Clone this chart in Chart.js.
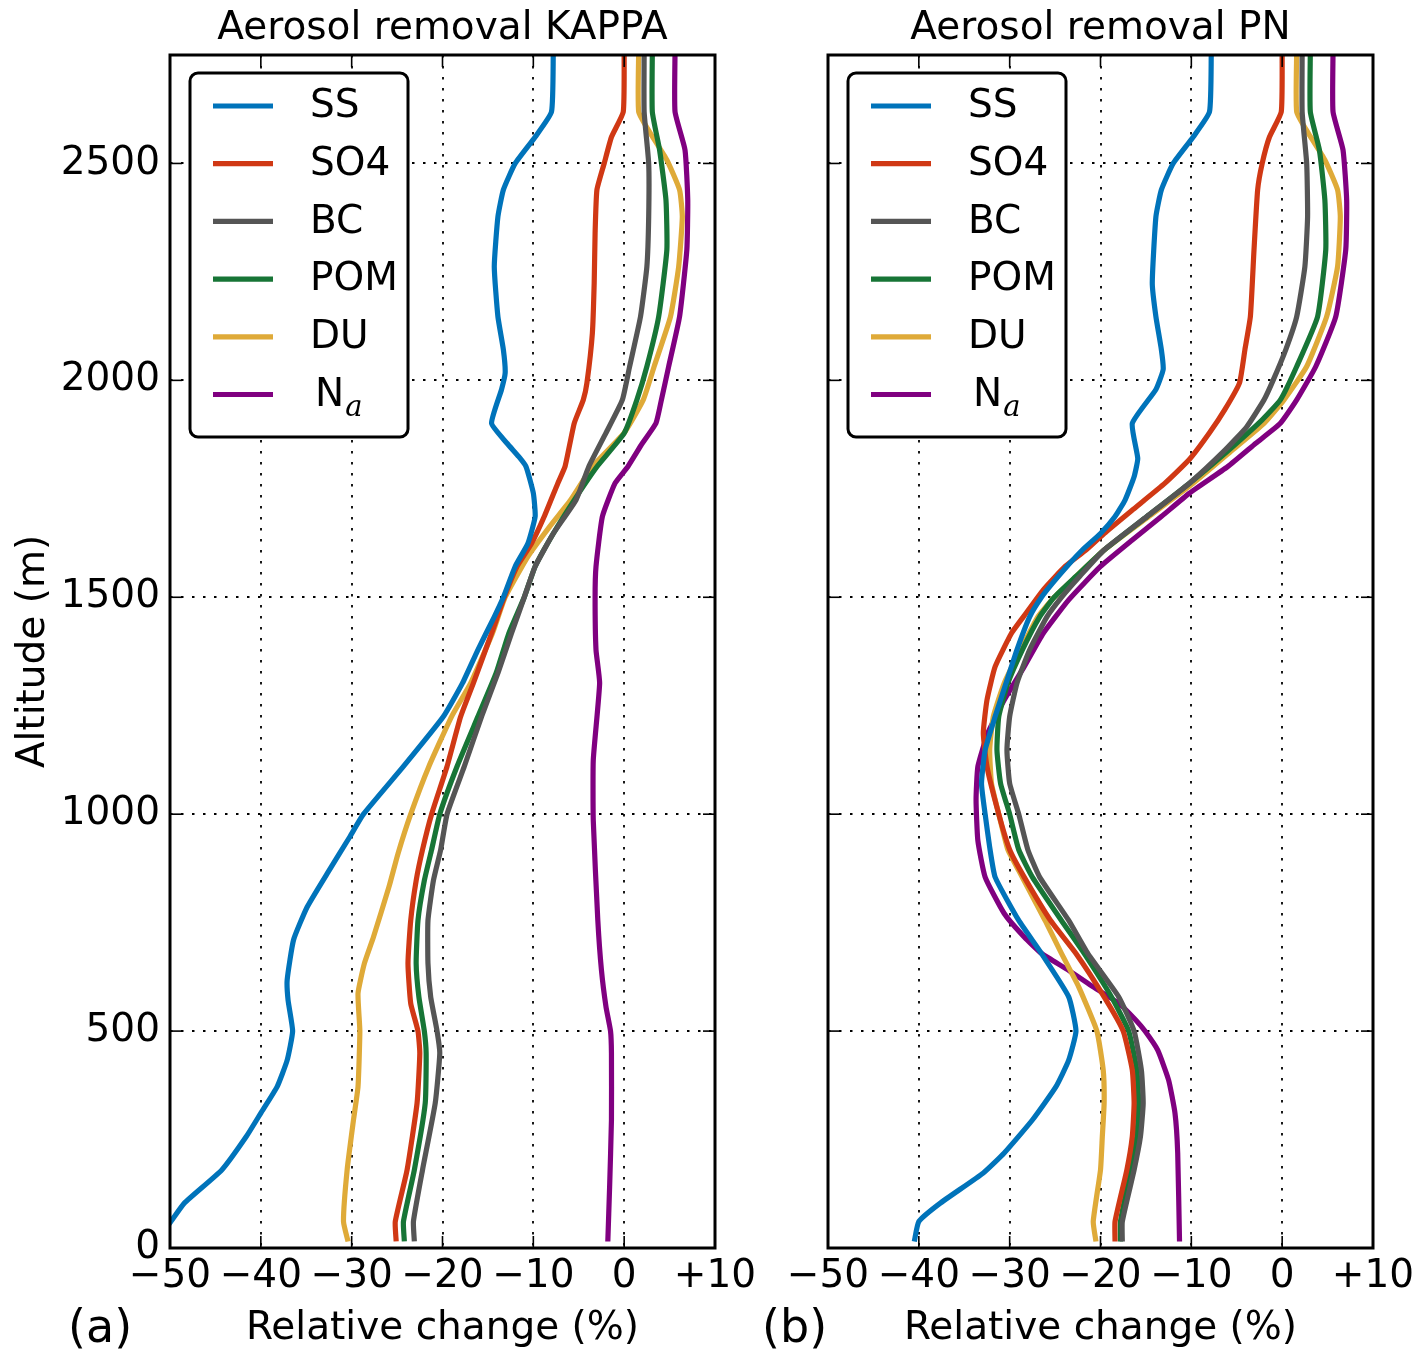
<!DOCTYPE html>
<html>
<head>
<meta charset="utf-8">
<script src="https://cdn.jsdelivr.net/npm/chart.js@4.4.1/dist/chart.umd.min.js"></script>
<style>
html,body{margin:0;padding:0;background:#fff;width:1423px;height:1361px;overflow:hidden;}
canvas{position:absolute;top:0;}
#chartA{left:0;}
#chartB{left:658px;}
</style>
</head>
<body>
<canvas id="chartA" width="780" height="1361"></canvas>
<canvas id="chartB" width="765" height="1361"></canvas>
<script>
// ---------- tick labels / categories ----------
const altitudeTicks = [0, 500, 1000, 1500, 2000, 2500];
const changeTicks = [-50, -40, -30, -20, -10, 0, 10];
const changeTickLabels = ['\u221250', '\u221240', '\u221230', '\u221220', '\u221210', '0', '+10'];
const species = ['SS', 'SO4', 'BC', 'POM', 'DU', 'Na'];
const speciesColors = ['#0073BA', '#D03814', '#555555', '#177536', '#DFAA38', '#800080'];

// ---------- panel (a): Aerosol removal KAPPA ----------
const kappaSS_alt = [15, 61, 104, 180, 257, 311, 372, 433, 500, 571, 618, 710, 786, 863, 948, 1000, 1110, 1225, 1302, 1379, 1455, 1500, 1571, 1624, 1686, 1740, 1801, 1824, 1855, 1901, 1979, 2017, 2071, 2147, 2262, 2377, 2439, 2500, 2561, 2619, 2760];
const kappaSS_val = [-51.5, -49.9, -48.4, -44.3, -41.6, -40.0, -38.2, -37.1, -36.5, -37.0, -37.1, -36.4, -34.9, -32.7, -30.2, -28.7, -24.3, -19.9, -17.8, -16.1, -14.3, -13.3, -12.0, -10.6, -9.8, -10.0, -10.8, -11.6, -12.9, -14.6, -13.5, -13.1, -13.3, -13.9, -14.3, -13.9, -13.3, -12.0, -9.8, -8.0, -7.8];

const kappaSO4_alt = [15, 61, 180, 334, 449, 500, 564, 656, 755, 847, 918, 1000, 1110, 1225, 1302, 1417, 1500, 1571, 1624, 1686, 1763, 1802, 1901, 1955, 1994, 2109, 2224, 2339, 2439, 2500, 2561, 2619, 2760];
const kappaSO4_val = [-25.1, -25.2, -23.9, -22.8, -22.5, -22.7, -23.5, -23.8, -23.5, -22.9, -22.2, -21.2, -19.5, -18.0, -16.6, -14.6, -13.2, -11.8, -10.2, -8.8, -7.3, -6.5, -5.5, -4.5, -4.1, -3.5, -3.3, -3.2, -3.0, -2.2, -1.4, -0.1, 0.0];

const kappaBC_alt = [15, 61, 180, 334, 449, 500, 579, 656, 755, 847, 918, 1000, 1110, 1225, 1325, 1417, 1500, 1571, 1647, 1724, 1801, 1879, 1955, 2032, 2147, 2262, 2377, 2500, 2619, 2760];
const kappaBC_val = [-23.1, -23.2, -22.2, -20.8, -20.3, -20.6, -21.3, -21.6, -21.6, -21.0, -20.2, -19.5, -17.6, -15.7, -13.9, -12.4, -11.0, -9.8, -7.8, -5.3, -3.9, -2.0, -0.2, 0.6, 1.8, 2.5, 2.7, 2.7, 2.2, 2.2];

const kappaPOM_alt = [15, 61, 180, 334, 449, 500, 579, 656, 755, 847, 918, 1000, 1110, 1225, 1325, 1417, 1500, 1571, 1647, 1724, 1801, 1878, 1955, 2032, 2147, 2301, 2416, 2531, 2619, 2760];
const kappaPOM_val = [-24.2, -24.3, -23.1, -21.9, -21.8, -22.0, -22.6, -22.9, -22.7, -22.0, -21.2, -20.3, -18.4, -16.1, -14.1, -12.7, -11.0, -9.8, -7.8, -5.5, -3.0, 0.0, 1.4, 2.5, 3.8, 4.7, 4.6, 3.9, 3.1, 3.1];

const kappaDU_alt = [15, 61, 180, 295, 372, 500, 587, 656, 717, 832, 909, 1000, 1110, 1225, 1302, 1417, 1500, 1594, 1663, 1724, 1801, 1879, 1955, 2032, 2147, 2262, 2377, 2439, 2508, 2569, 2619, 2760];
const kappaDU_val = [-30.4, -30.9, -30.5, -29.8, -29.3, -29.1, -29.3, -28.6, -27.6, -25.9, -24.9, -23.5, -21.5, -19.0, -16.9, -14.5, -13.1, -10.6, -8.2, -5.9, -3.5, 0.0, 2.1, 3.3, 5.1, 6.0, 6.4, 6.1, 4.7, 2.9, 1.6, 1.6];

const kappaNa_alt = [15, 142, 295, 449, 500, 556, 640, 755, 985, 1125, 1302, 1379, 1500, 1571, 1686, 1763, 1801, 1855, 1901, 1955, 2032, 2147, 2301, 2416, 2531, 2619, 2760];
const kappaNa_val = [-1.8, -1.6, -1.4, -1.4, -1.5, -2.0, -2.5, -2.9, -3.4, -3.4, -2.7, -3.1, -3.2, -3.1, -2.4, -1.0, 0.4, 2.0, 3.5, 4.1, 4.9, 6.1, 6.9, 7.0, 6.7, 5.6, 5.6];

// ---------- panel (b): Aerosol removal PN ----------
const pnSS_alt = [15, 61, 104, 173, 219, 295, 372, 433, 500, 579, 679, 755, 855, 924, 1000, 1071, 1148, 1225, 1302, 1379, 1455, 1500, 1532, 1571, 1609, 1647, 1686, 1724, 1778, 1820, 1901, 1979, 2025, 2071, 2147, 2224, 2377, 2439, 2500, 2561, 2619, 2760];
const pnSS_val = [-40.5, -40.0, -37.6, -32.9, -30.6, -27.5, -24.9, -23.5, -22.7, -23.5, -26.5, -29.0, -31.6, -32.2, -32.7, -33.1, -32.7, -31.6, -30.4, -29.2, -27.8, -26.5, -25.3, -23.7, -22.0, -20.0, -18.4, -17.3, -16.3, -15.9, -16.5, -13.9, -13.1, -13.3, -13.9, -14.3, -13.9, -13.3, -12.0, -9.8, -8.0, -7.8];

const pnSO4_alt = [15, 61, 180, 257, 334, 410, 500, 579, 679, 755, 855, 918, 1000, 1110, 1187, 1263, 1340, 1417, 1463, 1517, 1571, 1609, 1647, 1701, 1763, 1818, 1879, 1933, 1994, 2071, 2147, 2301, 2439, 2500, 2561, 2619, 2760];
const pnSO4_val = [-18.4, -18.4, -17.1, -16.5, -16.3, -16.5, -17.5, -19.6, -22.7, -25.5, -28.4, -30.0, -31.2, -32.5, -32.9, -32.5, -31.6, -29.8, -28.2, -26.3, -23.9, -21.6, -19.6, -16.5, -12.9, -10.2, -8.0, -6.3, -4.7, -4.1, -3.5, -3.1, -2.7, -2.2, -1.4, -0.1, 0.0];

const pnBC_alt = [15, 61, 180, 257, 334, 410, 500, 579, 679, 755, 855, 918, 1000, 1071, 1148, 1225, 1302, 1379, 1455, 1500, 1548, 1609, 1686, 1763, 1839, 1893, 1955, 2000, 2071, 2147, 2262, 2377, 2500, 2619, 2760];
const pnBC_val = [-17.6, -17.6, -16.3, -15.6, -15.3, -15.5, -16.3, -18.0, -21.4, -23.5, -26.7, -28.0, -29.0, -30.0, -30.3, -30.0, -29.2, -27.8, -25.9, -24.3, -22.3, -19.6, -14.9, -10.2, -6.3, -3.9, -2.0, -1.0, 0.4, 1.6, 2.5, 2.8, 2.7, 2.2, 2.2];

const pnPOM_alt = [15, 61, 180, 257, 334, 410, 500, 579, 679, 755, 855, 918, 1000, 1071, 1148, 1225, 1302, 1379, 1455, 1500, 1548, 1609, 1686, 1763, 1839, 1909, 1955, 2032, 2147, 2301, 2416, 2531, 2619, 2760];
const pnPOM_val = [-17.8, -17.8, -16.7, -16.0, -15.8, -16.0, -16.9, -18.8, -21.8, -24.3, -27.5, -29.0, -30.0, -31.0, -31.4, -31.2, -30.2, -28.6, -26.7, -25.1, -22.7, -19.6, -14.9, -10.2, -5.9, -2.2, -0.2, 1.6, 3.9, 4.8, 4.7, 4.1, 3.1, 3.1];

const pnDU_alt = [15, 61, 180, 257, 334, 410, 500, 602, 679, 755, 870, 918, 1000, 1071, 1148, 1225, 1302, 1379, 1455, 1500, 1548, 1609, 1686, 1763, 1839, 1901, 1955, 2032, 2147, 2262, 2377, 2439, 2508, 2569, 2619, 2760];
const pnDU_val = [-20.5, -20.8, -20.0, -19.8, -19.6, -19.7, -20.4, -22.4, -24.3, -26.1, -29.0, -30.2, -31.2, -32.0, -32.2, -31.8, -30.6, -28.8, -26.9, -25.1, -22.7, -19.6, -14.7, -9.8, -5.5, -2.0, 0.2, 2.7, 4.9, 6.1, 6.4, 6.1, 4.7, 2.9, 1.6, 1.6];

const pnNa_alt = [15, 219, 311, 387, 456, 500, 525, 564, 602, 640, 679, 717, 771, 855, 939, 1033, 1110, 1187, 1263, 1340, 1417, 1494, 1571, 1632, 1686, 1740, 1801, 1855, 1901, 1955, 2032, 2147, 2301, 2416, 2531, 2619, 2760];
const pnNa_val = [-11.3, -11.5, -11.8, -12.5, -13.7, -15.1, -16.1, -18.0, -20.8, -23.5, -26.5, -28.4, -30.6, -32.7, -33.5, -33.7, -33.5, -32.4, -30.6, -28.4, -26.3, -23.5, -20.0, -16.5, -13.3, -10.2, -6.0, -2.9, -0.2, 1.6, 3.7, 5.9, 7.0, 7.1, 6.7, 5.6, 5.6];

// ---------- helpers ----------
const FONT = "'DejaVu Sans', 'Liberation Sans', sans-serif";
const FS = 39;
const LINE_W = 5.2;
Chart.defaults.font.family = FONT;
Chart.defaults.color = '#000';

function profile(alts, vals) { return alts.map((a, i) => ({ x: vals[i], y: a })); }

const kappaData = [
  profile(kappaSS_alt, kappaSS_val), profile(kappaSO4_alt, kappaSO4_val),
  profile(kappaBC_alt, kappaBC_val), profile(kappaPOM_alt, kappaPOM_val),
  profile(kappaDU_alt, kappaDU_val), profile(kappaNa_alt, kappaNa_val)
];
const pnData = [
  profile(pnSS_alt, pnSS_val), profile(pnSO4_alt, pnSO4_val),
  profile(pnBC_alt, pnBC_val), profile(pnPOM_alt, pnPOM_val),
  profile(pnDU_alt, pnDU_val), profile(pnNa_alt, pnNa_val)
];

const frameGrid = {
  id: 'frameGrid',
  beforeDatasetsDraw(chart) {
    const { ctx, chartArea: a } = chart;
    const xs = chart.scales.x, ys = chart.scales.y;
    ctx.save();
    ctx.strokeStyle = '#000';
    ctx.lineWidth = 1.8;
    ctx.setLineDash([2.5, 8.5]);
    xs.ticks.forEach(t => {
      const p = Math.round(xs.getPixelForValue(t.value));
      if (p > a.left + 3 && p < a.right - 3) {
        ctx.beginPath(); ctx.moveTo(p, a.top); ctx.lineTo(p, a.bottom); ctx.stroke();
      }
    });
    ys.ticks.forEach(t => {
      const p = Math.round(ys.getPixelForValue(t.value));
      if (p > a.top + 3 && p < a.bottom - 3) {
        ctx.beginPath(); ctx.moveTo(a.left, p); ctx.lineTo(a.right, p); ctx.stroke();
      }
    });
    ctx.restore();
  },
  afterDatasetsDraw(chart) {
    const { ctx, chartArea: a } = chart;
    const xs = chart.scales.x, ys = chart.scales.y;
    const L = 12;
    ctx.save();
    ctx.strokeStyle = '#000';
    ctx.setLineDash([]);
    ctx.lineWidth = 1.6;
    xs.ticks.forEach(t => {
      const p = xs.getPixelForValue(t.value);
      ctx.beginPath(); ctx.moveTo(p, a.bottom); ctx.lineTo(p, a.bottom - L); ctx.stroke();
      ctx.beginPath(); ctx.moveTo(p, a.top); ctx.lineTo(p, a.top + L); ctx.stroke();
    });
    ys.ticks.forEach(t => {
      const p = ys.getPixelForValue(t.value);
      ctx.beginPath(); ctx.moveTo(a.left, p); ctx.lineTo(a.left + L, p); ctx.stroke();
      ctx.beginPath(); ctx.moveTo(a.right, p); ctx.lineTo(a.right - L, p); ctx.stroke();
    });
    ctx.lineWidth = 3;
    ctx.strokeRect(a.left, a.top, a.right - a.left, a.bottom - a.top);
    ctx.restore();
  }
};

const boxLegend = {
  id: 'boxLegend',
  afterDatasetsDraw(chart) {
    const { ctx, chartArea: a } = chart;
    const bx = a.left + 20, by = a.top + 18, bw = 218, bh = 364, r = 8;
    ctx.save();
    ctx.beginPath();
    ctx.moveTo(bx + r, by);
    ctx.lineTo(bx + bw - r, by); ctx.arcTo(bx + bw, by, bx + bw, by + r, r);
    ctx.lineTo(bx + bw, by + bh - r); ctx.arcTo(bx + bw, by + bh, bx + bw - r, by + bh, r);
    ctx.lineTo(bx + r, by + bh); ctx.arcTo(bx, by + bh, bx, by + bh - r, r);
    ctx.lineTo(bx, by + r); ctx.arcTo(bx, by, bx + r, by, r);
    ctx.closePath();
    ctx.fillStyle = '#fff'; ctx.fill();
    ctx.lineWidth = 3; ctx.strokeStyle = '#000'; ctx.stroke();
    chart.data.datasets.forEach((ds, i) => {
      const cy = by + 33 + i * 57.7;
      ctx.strokeStyle = ds.borderColor; ctx.lineWidth = LINE_W; ctx.lineCap = 'butt';
      ctx.beginPath(); ctx.moveTo(bx + 23, cy); ctx.lineTo(bx + 83, cy); ctx.stroke();
      ctx.fillStyle = '#000'; ctx.textAlign = 'left'; ctx.textBaseline = 'middle';
      ctx.font = FS + 'px ' + FONT;
      if (ds.label === 'Na') {
        ctx.fillText('N', bx + 125, cy + 1);
        const w = ctx.measureText('N').width;
        ctx.font = "italic 29px 'DejaVu Serif', 'Liberation Serif', serif";
        ctx.fillText('a', bx + 125 + w + 1, cy + 14);
      } else {
        ctx.fillText(ds.label, bx + 120, cy + 1);
      }
    });
    ctx.restore();
  }
};

const panelLabel = {
  id: 'panelLabel',
  afterDraw(chart, args, opts) {
    const ctx = chart.ctx;
    ctx.save();
    ctx.fillStyle = '#000';
    ctx.font = '46px ' + FONT;
    ctx.textAlign = 'left'; ctx.textBaseline = 'alphabetic';
    ctx.fillText(opts.text, opts.x, 1342);
    ctx.restore();
  }
};

function makeChart(id, title, data, showY, label, labelX, padRight) {
  return new Chart(document.getElementById(id), {
    type: 'scatter',
    data: {
      datasets: species.map((s, i) => ({
        label: s, data: data[i],
        borderColor: speciesColors[i], backgroundColor: speciesColors[i],
        showLine: true, pointRadius: 0, pointHoverRadius: 0,
        borderWidth: LINE_W, tension: 0.15, clip: 0, borderJoinStyle: 'round'
      }))
    },
    options: {
      responsive: false, animation: false, devicePixelRatio: 1,
      events: [],
      layout: { padding: { left: 0, right: padRight, top: 0, bottom: 0 } },
      plugins: {
        legend: { display: false }, tooltip: { enabled: false }, title: { display: false },
        panelLabel: { text: label, x: labelX }
      },
      scales: {
        x: {
          type: 'linear', position: 'bottom', min: -50, max: 10,
          afterBuildTicks: s => { s.ticks = changeTicks.map(v => ({ value: v })); },
          ticks: { callback: (v, i) => changeTickLabels[i], font: { size: FS }, color: '#000', padding: 5, maxRotation: 0, autoSkip: false },
          grid: { display: false, drawTicks: false }, border: { display: false },
          title: { display: true, text: 'Relative change (%)', font: { size: FS }, color: '#000', padding: { top: 0, bottom: 9 } },
          afterFit: s => { s.height = 113; }
        },
        xTop: {
          type: 'linear', position: 'top', min: -50, max: 10,
          ticks: { display: false }, grid: { display: false, drawTicks: false }, border: { display: false },
          title: { display: true, text: title, font: { size: FS }, color: '#000', padding: { top: 5, bottom: 0 } },
          afterFit: s => { s.height = 55; }
        },
        y: {
          type: 'linear', position: 'left', min: 0, max: 2750,
          afterBuildTicks: s => { s.ticks = altitudeTicks.map(v => ({ value: v })); },
          ticks: { display: showY, callback: v => String(v), font: { size: FS }, color: '#000', padding: 10 },
          grid: { display: false, drawTicks: false }, border: { display: false },
          title: { display: showY, text: 'Altitude (m)', font: { size: FS }, color: '#000', padding: { top: 10, bottom: 0 } },
          afterFit: s => { s.width = 170; }
        }
      }
    },
    plugins: [frameGrid, boxLegend, panelLabel]
  });
}

makeChart('chartA', 'Aerosol removal KAPPA', kappaData, true, '(a)', 68, 65);
makeChart('chartB', 'Aerosol removal PN', pnData, false, '(b)', 104, 50);
</script>
</body>
</html>
